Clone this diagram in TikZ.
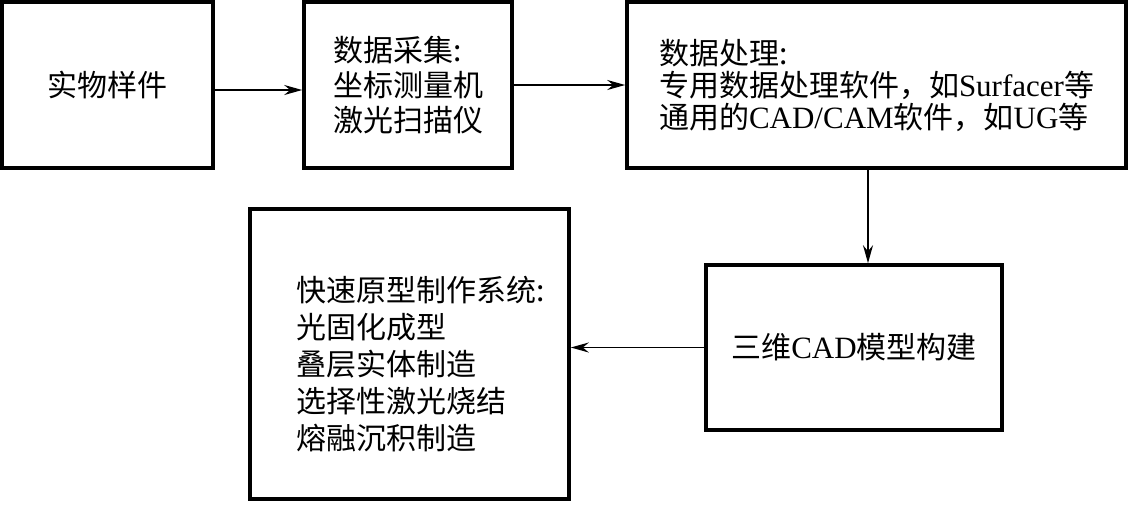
\documentclass[tikz,border=0pt]{standalone}
\usepackage{fontspec}
\setmainfont{Noto Sans CJK SC}
\newfontfamily\lat{Liberation Serif}
\usetikzlibrary{arrows.meta}

\begin{document}
\begin{tikzpicture}
[x=1pt,y=1pt,every node/.style={inner sep=0pt,align=left,font=\fontsize{30}{35}\selectfont},
box/.style={draw=black,line width=3.6pt},
arr/.style={line width=1.8pt,-{Stealth[length=18pt,width=10pt,inset=6pt]}}]
\useasboundingbox (0,0) rectangle (1135,-504);
\node[box,minimum width=211pt,minimum height=166pt] (sample) at (107.5,-85) {实物样件};
\node[box,minimum width=208pt,minimum height=166pt] (acquire) at (408,-85) {数据采集:\\坐标测量机\\激光扫描仪};
\node[box,minimum width=499pt,minimum height=166pt,font=\fontsize{30}{32}\selectfont] (process) at (876.5,-85) {数据处理:\\专用数据处理软件，如{\lat\fontsize{31}{32}\selectfont Surfacer}等\\通用的{\lat\fontsize{31}{32}\selectfont CAD/CAM}软件，如{\lat\fontsize{31}{32}\selectfont UG}等};
\node[box,minimum width=296pt,minimum height=165pt] (model) at (854,-347.5) {三维{\lat\fontsize{31}{32}\selectfont CAD}模型构建};
\node[box,minimum width=319pt,minimum height=290pt] (rp) at (409.5,-354) {};
\node[font=\fontsize{30}{37}\selectfont] (rplist) at (421,-364) {快速原型制作系统:\\光固化成型\\叠层实体制造\\选择性激光烧结\\熔融沉积制造};

\draw[arr] ([yshift=-5pt]sample.east) -- ([yshift=-5pt]sample.east -| acquire.west);
\draw[arr] (acquire.east) -- (process.west);
\draw[arr] ([xshift=-8.5pt]process.south) -- ([xshift=-8.5pt]process.south |- model.north);
\draw[arr] (model.west) -- (model.west -| rp.east);
\end{tikzpicture}
\end{document}
